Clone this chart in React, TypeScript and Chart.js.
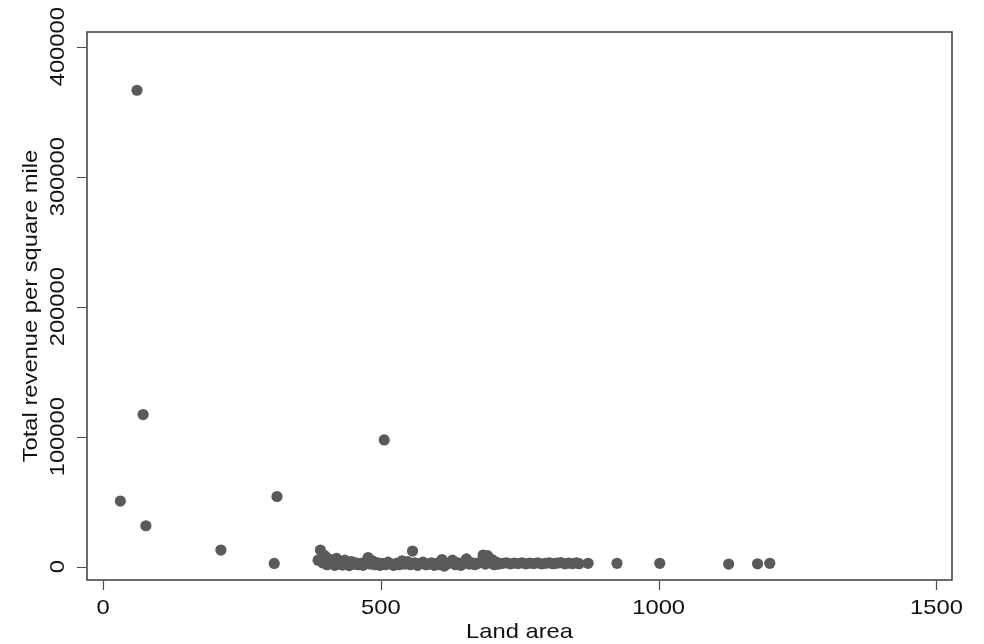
import { useEffect, useRef } from "react";
import { Chart, registerables } from "chart.js";

Chart.register(...registerables);

// Land area (x) and total revenue per square mile (y)
const landArea = [
  31, 61, 72, 77, 212, 308, 313, 506,
  387, 391, 395, 399, 403, 406, 410, 413, 417, 420, 424, 427, 431, 435, 439, 443, 447, 451, 455, 459, 464, 468, 472, 477, 481, 485, 489, 494, 498,
  503, 508, 513, 518, 523, 528, 533, 538, 543, 548, 553, 557, 561, 566, 571, 576, 581, 586, 591, 596, 601, 606, 610, 614, 619, 624, 629, 634, 639, 644, 649, 654, 659, 664, 669, 674, 679, 684, 688, 692, 696, 700, 704, 708, 712,
  719, 726, 733, 740, 747, 754, 761, 768, 775, 782, 789, 796, 803, 810, 817, 824, 831, 838, 845, 852, 857,
  873, 925, 1002, 1126, 1178, 1200,
];

const revenue = [
  50500, 366500, 117000, 31500, 12800, 2500, 54000, 97500,
  5000, 12800, 3000, 8500, 1500, 6000, 2500, 4000, 1000, 6500, 2000, 3500, 1200, 5000, 2500, 800, 4000, 2000, 3000, 1500, 2500, 1000, 3500, 7000, 2000, 4500, 1500, 3000, 1000,
  2500, 1500, 3500, 2000, 1000, 2500, 1500, 4500, 2000, 4000, 1500, 12000, 3000, 1000, 2500, 3500, 1500, 2000, 3000, 1000, 2500, 1500, 5500, 500, 2000, 3000, 5000, 1500, 3000, 1000, 2500, 6000, 2000, 3000, 1500, 2500, 3500, 9000, 2000, 8500, 3000, 5500, 1500, 3500, 2000,
  2600, 3000, 2200, 2800, 2400, 3000, 2200, 2800, 2400, 3000, 2200, 2600, 3000, 2300, 2700, 3100, 2200, 2800, 2400, 2900, 2300,
  2600, 2600, 2600, 2000, 2200, 2600,
];

const xTicks = [0, 500, 1000, 1500];
const xTickLabels = ["0", "500", "1000", "1500"];
const yTicks = [0, 100000, 200000, 300000, 400000];
const yTickLabels = ["0", "100000", "200000", "300000", "400000"];
const xTitle = "Land area";
const yTitle = "Total revenue per square mile";

export default function App() {
  const ref = useRef<HTMLCanvasElement>(null);

  useEffect(() => {
    const canvas = ref.current;
    if (!canvas) return;
    const points = landArea.map((x, i) => ({ x, y: revenue[i] }));
    const FONT = '21px "Liberation Sans", Arial, sans-serif';
    const STRETCH = 1.13;

    const stataAxes = {
      id: "stataAxes",
      afterDraw(chart: any) {
        const { ctx, chartArea: a, scales } = chart;
        const xs = scales.x;
        const ys = scales.y;
        ctx.save();
        ctx.strokeStyle = "#3a3a3a";
        ctx.lineWidth = 1.5;
        ctx.strokeRect(a.left, a.top, a.right - a.left, a.bottom - a.top);

        ctx.strokeStyle = "#4a4a4a";
        ctx.lineWidth = 1.2;
        ctx.beginPath();
        xTicks.forEach((v) => {
          const px = Math.round(xs.getPixelForValue(v)) + 0.5;
          ctx.moveTo(px, a.bottom + 1);
          ctx.lineTo(px, a.bottom + 10);
        });
        yTicks.forEach((v) => {
          const py = Math.round(ys.getPixelForValue(v)) + 0.5;
          ctx.moveTo(a.left - 1, py);
          ctx.lineTo(a.left - 10, py);
        });
        ctx.stroke();

        ctx.fillStyle = "#111";
        ctx.font = FONT;
        ctx.textAlign = "center";
        ctx.textBaseline = "alphabetic";
        const txt = (text: string, x: number, y: number, rot: number) => {
          ctx.save();
          ctx.translate(x, y);
          ctx.rotate(rot);
          ctx.scale(STRETCH, 1);
          ctx.fillText(text, 0, 0);
          ctx.restore();
        };
        xTicks.forEach((v, i) => txt(xTickLabels[i], xs.getPixelForValue(v), 614, 0));
        yTicks.forEach((v, i) => txt(yTickLabels[i], 64, ys.getPixelForValue(v), -Math.PI / 2));
        txt(xTitle, (a.left + a.right) / 2, 638, 0);
        txt(yTitle, 37, (a.top + a.bottom) / 2, -Math.PI / 2);
        ctx.restore();
      },
    };

    const chart = new Chart(canvas, {
      type: "scatter",
      data: {
        datasets: [
          {
            data: points,
            backgroundColor: "#5a5a5a",
            borderColor: "#5a5a5a",
            borderWidth: 0,
            pointRadius: 5.6,
            pointHoverRadius: 5.6,
          },
        ],
      },
      options: {
        animation: false,
        responsive: false,
        events: [],
        layout: { padding: { left: 87, top: 32, right: 32, bottom: 64 } },
        plugins: { legend: { display: false }, tooltip: { enabled: false } },
        scales: {
          x: { type: "linear", display: false, min: -29, max: 1528 },
          y: { type: "linear", display: false, min: -10250, max: 411300 },
        },
      },
      plugins: [stataAxes],
    });
    return () => chart.destroy();
  }, []);

  return (
    <div style={{ position: "absolute", left: 0, top: 0, width: 984, height: 644, background: "#fff" }}>
      <canvas ref={ref} width={984} height={644} style={{ display: "block" }} />
    </div>
  );
}
